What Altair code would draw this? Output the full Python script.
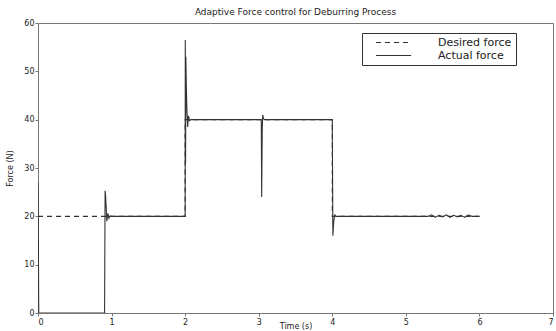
import altair as alt
import pandas as pd

# Desired force (step profile)
t_des = [0, 2, 2, 4, 4, 6]
f_des = [20, 20, 40, 40, 20, 20]

# Actual force
t_act = [0.0, 0.004, 0.01, 0.905, 0.912, 0.92, 0.935, 0.95, 0.965, 0.98, 1.0,
         2.0, 2.002, 2.006, 2.01, 2.016, 2.024, 2.035, 2.045, 2.06, 2.08,
         3.035, 3.04, 3.048, 3.055, 3.065, 3.08,
         4.0, 4.003, 4.008, 4.02, 4.035, 4.05,
         5.3, 5.35, 5.4, 5.45, 5.5, 5.55, 5.6, 5.65, 5.7, 5.75, 5.8, 5.85, 5.9, 6.0]
f_act = [27, 18, 0, 0, 25.3, 24, 19, 20.6, 19.6, 20.1, 20,
         20, 56.5, 31, 53, 47, 42, 38.5, 40.8, 39.8, 40,
         40, 24, 38, 41, 40.2, 40,
         40, 31, 16, 19, 20.3, 20,
         20, 20.3, 19.8, 20.2, 19.9, 20.3, 19.8, 20.2, 19.9, 20.2, 19.8, 20.3, 20.0, 20]

series = ["Desired force", "Actual force"]
x_ticks = [0, 1, 2, 3, 4, 5, 6, 7]
y_ticks = [0, 10, 20, 30, 40, 50, 60]

des = pd.DataFrame({"t": t_des, "f": f_des, "s": series[0]})
act = pd.DataFrame({"t": t_act, "f": f_act, "s": series[1]})
df = pd.concat([des, act], ignore_index=True)
df["o"] = range(len(df))

FONT = "DejaVu Sans"
AX = "#777777"

chart = alt.Chart(df).mark_line(color="#333333", strokeWidth=1.1, clip=True).encode(
    x=alt.X("t:Q", scale=alt.Scale(domain=[0, 7], nice=False),
            axis=alt.Axis(values=x_ticks, title="Time (s)", titleY=9, titleBaseline="top",
                          tickSize=3, labelPadding=2)),
    y=alt.Y("f:Q", scale=alt.Scale(domain=[0, 60], nice=False),
            axis=alt.Axis(values=y_ticks, title="Force (N)", tickSize=3, labelPadding=1,
                          titleX=-24, titleBaseline="bottom")),
    strokeDash=alt.StrokeDash("s:N", scale=alt.Scale(domain=series, range=[[5, 4], [1, 0]]),
                              legend=alt.Legend(title=None, orient="none", legendX=324, legendY=10,
                                                symbolType="M1,0H8.8", symbolSize=81,
                                                symbolStrokeColor="#333333", symbolStrokeWidth=1.1,
                                                labelFontSize=11, labelOffset=61,
                                                padding=4, rowPadding=1,
                                                strokeColor="#333333", fillColor="white")),
    order="o:Q",
).properties(
    width=515, height=290,
    autosize=alt.AutoSizeParams(type="none"),
    padding={"left": 38, "top": 23, "right": 3, "bottom": 18},
    title=alt.Title("Adaptive Force control for Deburring Process", fontSize=9,
                    fontWeight="normal", offset=2, anchor="middle", font=FONT, color="#222222"),
).configure_view(
    stroke=AX, strokeWidth=1
).configure_axis(
    grid=False, domain=False, tickColor=AX, labelFont=FONT, titleFont=FONT,
    labelFontSize=8, titleFontSize=8, titleFontWeight="normal",
    labelColor="#222222", titleColor="#222222"
).configure_legend(
    labelFont=FONT, labelColor="#222222"
)

chart.save("out.html", embed_options={"renderer": "svg", "actions": False})
